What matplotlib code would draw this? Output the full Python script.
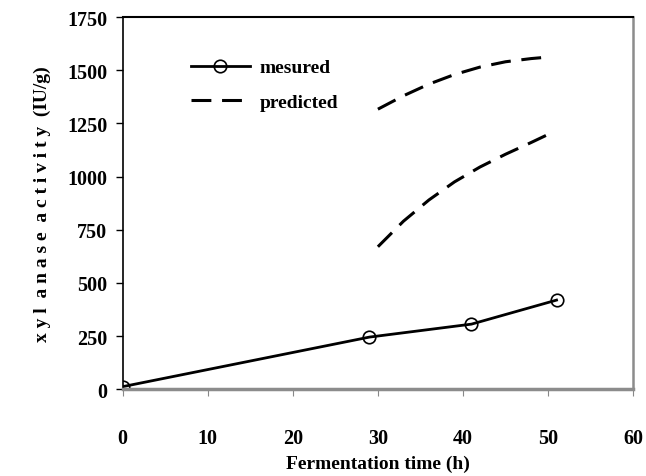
import matplotlib.pyplot as plt

# measured data
time_meas = [0, 29, 41, 51]
act_meas = [12, 245, 306, 419]

# predicted curves
time_pred = [30, 33, 36, 39, 42, 45, 48, 50]
act_pred_high = [1317, 1380, 1435, 1480, 1515, 1540, 1555, 1562]
act_pred_low = [670, 790, 890, 975, 1045, 1105, 1160, 1198]

xticks = [0, 10, 20, 30, 40, 50, 60]
yticks = [0, 250, 500, 750, 1000, 1250, 1500, 1750]

plt.rcParams['font.family'] = ['Liberation Serif', 'DejaVu Serif']
plt.rcParams['font.weight'] = 'bold'

fig = plt.figure(figsize=(6.46, 4.77), dpi=100)
ax = fig.add_axes([0.190, 0.182, 0.790, 0.780])

dash = (0, (6.5, 3.5))
ax.plot(time_meas, act_meas, color='black', lw=2, marker='o', ms=9,
        mfc='none', mec='black', mew=1.2, label='mesured')
ax.plot(time_pred, act_pred_high, color='black', lw=2.2, ls=dash,
        label='predicted')
ax.plot(time_pred, act_pred_low, color='black', lw=2.2, ls=dash)

ax.set_xlim(0, 60)
ax.set_ylim(0, 1750)
ax.set_xticks(xticks)
ax.set_yticks(yticks)
ax.tick_params(axis='both', labelsize=14.5, direction='out')
ax.tick_params(axis='x', colors='#888888', labelcolor='black', length=5, pad=23)
ax.tick_params(axis='y', length=5, width=1, pad=6)

ax.spines['bottom'].set_color('#8c8c8c')
ax.spines['bottom'].set_linewidth(2.5)
ax.spines['right'].set_color('#8c8c8c')
ax.spines['right'].set_linewidth(1.8)
ax.spines['top'].set_linewidth(1.5)
ax.spines['left'].set_linewidth(1.2)

ax.set_xlabel('Fermentation time (h)', fontsize=14, fontweight='bold', labelpad=5)
ax.set_ylabel('x y l  a n a s e  a c t i v i t y  (IU/g)', fontsize=14,
              fontweight='bold', labelpad=12)

ax.legend(loc='upper left', bbox_to_anchor=(0.1, 0.935), frameon=False,
          fontsize=14, handlelength=3.0, handletextpad=0.5, labelspacing=0.85)

fig.savefig('out.png', dpi=100)
